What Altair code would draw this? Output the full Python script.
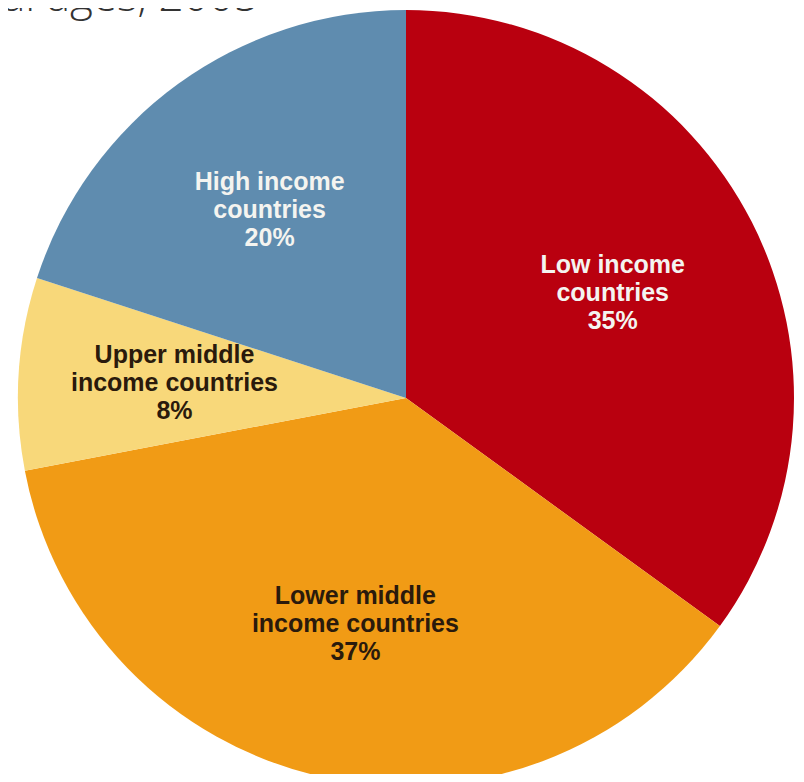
import altair as alt
import pandas as pd

categories = [
    "Low income countries",
    "Lower middle income countries",
    "Upper middle income countries",
    "High income countries",
]
shares = [35, 37, 8, 20]
label_lines = [
    ["Low income", "countries"],
    ["Lower middle", "income countries"],
    ["Upper middle", "income countries"],
    ["High income", "countries"],
]
slice_colors = ["#B9000F", "#F19B15", "#F8D87A", "#5F8CAF"]
light_text = ["Low income countries", "High income countries"]
title_text = "al ages, 2005"

df = pd.DataFrame({
    "category": categories,
    "share": shares,
    "order": list(range(len(categories))),
    "label": ["\n".join(lines + [f"{v}%"]) for lines, v in zip(label_lines, shares)],
})

cx, cy = 398, 390

base = alt.Chart(df).encode(
    theta=alt.Theta("share:Q", stack=True),
    order=alt.Order("order:Q"),
    x=alt.value(cx),
    y=alt.value(cy),
)

pie = base.mark_arc(outerRadius=388).encode(
    color=alt.Color(
        "category:N",
        scale=alt.Scale(domain=categories, range=slice_colors),
        legend=None,
    )
)

labels = base.mark_text(
    radius=232,
    lineBreak="\n",
    font="Liberation Sans",
    fontWeight="bold",
    fontSize=25,
    lineHeight=28,
    dy=-28,
    align="center",
    baseline="middle",
).encode(
    text="label:N",
    color=alt.condition(
        alt.FieldOneOfPredicate(field="category", oneOf=light_text),
        alt.value("#F4F4F0"),
        alt.value("#2A1A0C"),
    ),
)

title = alt.Chart(pd.DataFrame({"t": [title_text]})).mark_text(
    font="Open Sans",
    fontWeight=300,
    fontSize=44,
    align="left",
    baseline="alphabetic",
    color="#333333",
).encode(text="t:N", x=alt.value(-6), y=alt.value(3))

chart = alt.layer(pie, labels, title).properties(
    width=788,
    height=766,
    autosize=alt.AutoSizeParams(type="none"),
    padding=0,
    background="white",
).configure_view(stroke=None)

chart.save("out.html", embed_options={"renderer": "svg", "actions": False})
